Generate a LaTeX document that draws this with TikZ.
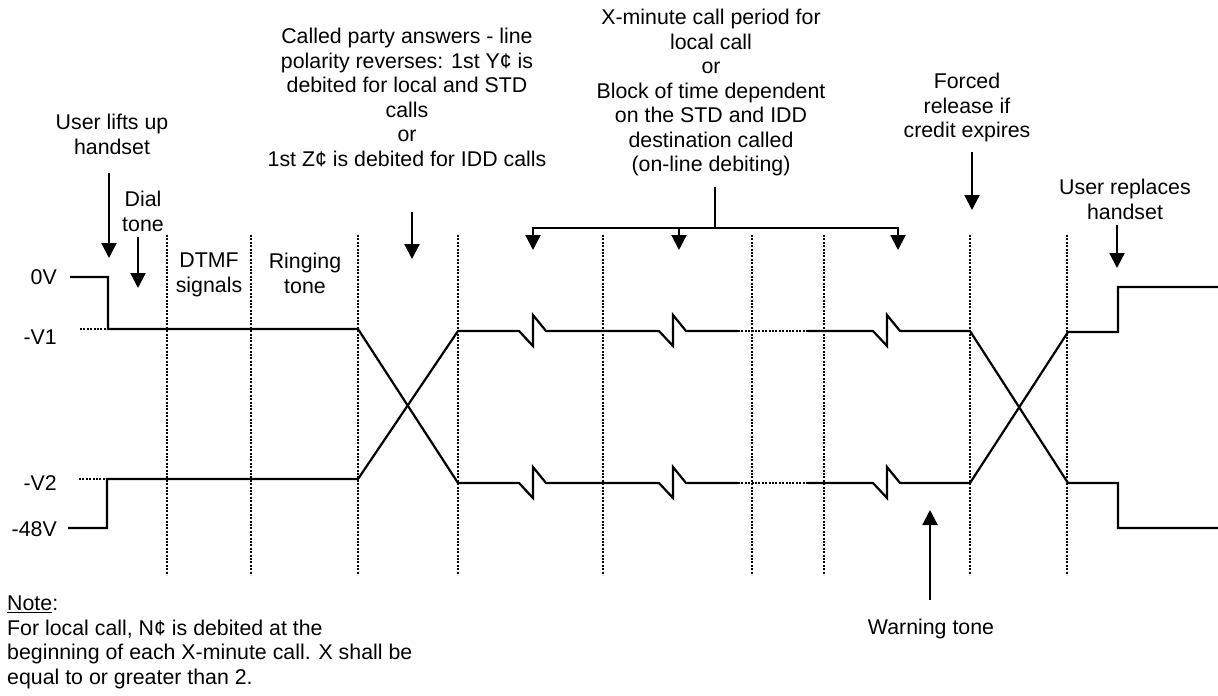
\documentclass[tikz,border=0pt]{standalone}
\usepackage{fontspec}
\setmainfont{Liberation Sans}
\usetikzlibrary{arrows.meta}
\begin{document}
\begin{tikzpicture}[x=1pt,y=-1pt,
  sig/.style={line width=2.2pt, line join=miter},
  gridline/.style={line width=2pt, dash pattern=on 2pt off 1.4pt},
  arr/.style={line width=2.2pt, -{Triangle[width=15pt,length=15pt]}},
  lbl/.style={inner sep=0pt, align=center, font=\fontsize{21.33}{24.5}\selectfont}]
\useasboundingbox (0,0) rectangle (1218,696);

% vertical dotted grid lines
\foreach \x in {167,251,358,458,603,752,824,970,1067}
  \draw[gridline] (\x,235) -- (\x,575);

% level labels
\node[lbl, anchor=east] (l0) at (57,277) {0V};
\node[lbl, anchor=east] (lv1) at (57,337) {-V1};
\node[lbl, anchor=east] (lv2) at (57,483) {-V2};
\node[lbl, anchor=east] (l48) at (57,529) {-48V};

% dotted level references
\draw[gridline] (80,329) -- (108,329);
\draw[gridline] (79,479) -- (107,479);
\draw[gridline] (738,331) -- (808,331);
\draw[gridline] (738,483) -- (808,483);

% signal A (starts at 0V)
\draw[sig] (70,277) -- (108,277) -- (108,329) -- (358,329) -- (458,483)
  -- (519,483) -- (533,498) -- (533,467) -- (546,483)
  -- (659,483) -- (673,498) -- (673,467) -- (686,483)
  -- (738,483);
\draw[sig] (808,483) -- (873,483) -- (887,498) -- (887,467) -- (900,483)
  -- (970,483) -- (1068,332) -- (1118,332) -- (1118,287) -- (1218,287);

% signal B (starts at -48V)
\draw[sig] (68,528) -- (107,528) -- (107,479) -- (358,479) -- (458,331)
  -- (519,331) -- (533,346) -- (533,315) -- (546,331)
  -- (659,331) -- (673,346) -- (673,315) -- (686,331)
  -- (738,331);
\draw[sig] (808,331) -- (873,331) -- (887,346) -- (887,315) -- (900,331)
  -- (970,331) -- (1068,483) -- (1118,483) -- (1118,528) -- (1218,528);

% text labels
\node[lbl, anchor=north] (lift) at (112,114) {User lifts up\\handset};
\node[lbl, anchor=north] (dial) at (143,191) {Dial\\tone};
\node[lbl, anchor=north] (dtmf) at (209,253) {DTMF\\signals};
\node[lbl, anchor=north] (ring) at (305,253) {Ringing\\tone};
\node[lbl, anchor=north] (answer) at (407,28) {Called party answers - line\\polarity reverses: 1st Y¢ is\\debited for local and STD\\calls\\or\\1st Z¢ is debited for IDD calls};
\node[lbl, anchor=north] (period) at (711,9) {X-minute call period for\\local call\\or\\Block of time dependent\\on the STD and IDD\\destination called\\(on-line debiting)};
\node[lbl, anchor=north] (forced) at (967,73) {Forced\\release if\\credit expires};
\node[lbl, anchor=north] (replace) at (1125,179) {User replaces\\handset};
\node[lbl, anchor=north] (warn) at (931,619) {Warning tone};
\node[lbl, align=left, anchor=north west] (note) at (7,596) {\underline{Note}:\\For local call, N¢ is debited at the\\beginning of each X-minute call. X shall be\\equal to or greater than 2.};

% arrows
\coordinate (liftA) at (109,173); \coordinate (liftB) at (109,258);
\coordinate (dialA) at (138,237); \coordinate (dialB) at (138,288);
\coordinate (ansA) at (412,212);  \coordinate (ansB) at (412,259);
\coordinate (forA) at (972,152);  \coordinate (forB) at (972,210);
\coordinate (repA) at (1117,225); \coordinate (repB) at (1117,268);
\coordinate (warA) at (930,600);  \coordinate (warB) at (930,510);
\draw[arr] (liftA) -- (liftB);
\draw[arr] (dialA) -- (dialB);
\draw[arr] (ansA) -- (ansB);
\draw[arr] (forA) -- (forB);
\draw[arr] (repA) -- (repB);
\draw[arr] (warA) -- (warB);

% bracket
\coordinate (brTop) at (715,187);
\coordinate (brMid) at (715,228);
\coordinate (brL) at (533,250);
\coordinate (brC) at (679,250);
\coordinate (brR) at (898,250);
\draw[sig] (brTop) -- (brMid);
\draw[arr] (brMid) -| (brL);
\draw[arr] (brMid) -| (brR);
\draw[arr] (679,228) -- (brC);
\end{tikzpicture}
\end{document}
